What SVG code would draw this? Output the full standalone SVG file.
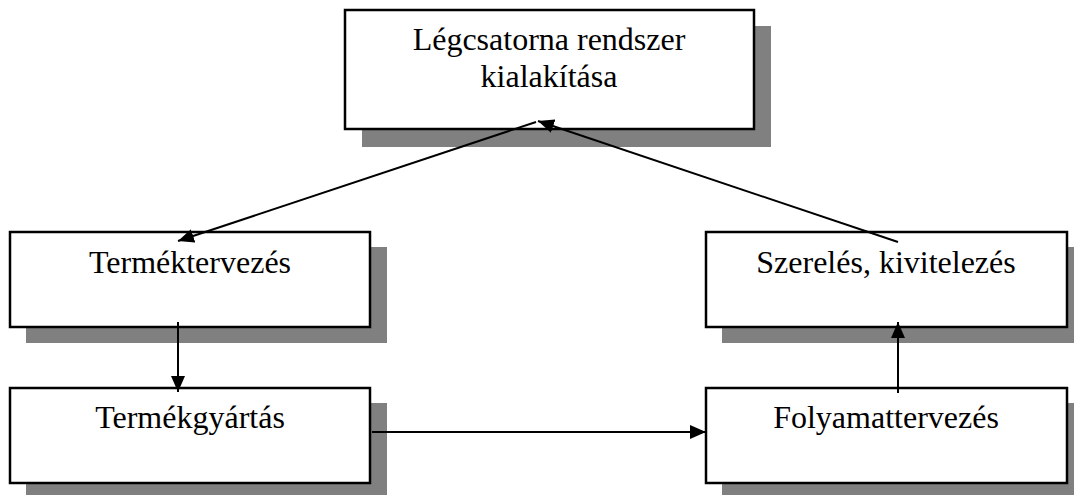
<svg xmlns="http://www.w3.org/2000/svg" width="1074" height="495" viewBox="0 0 1074 495">
<style>
.shadow{fill:#808080;stroke:none}
.box{fill:#ffffff;stroke:#000000;stroke-width:2.5}
.label{font-family:"Liberation Serif","Times New Roman",serif;font-size:32px;fill:#000000;text-anchor:middle}
.conn{stroke:#000000;stroke-width:2;fill:none;marker-end:url(#arrow)}
</style>
<defs>
<marker id="arrow" markerUnits="userSpaceOnUse" markerWidth="18" markerHeight="14" refX="16" refY="7" orient="auto">
<path d="M0,0 L16,7 L0,14 Z" fill="#000000"/>
</marker>
</defs>
<rect width="1074" height="495" fill="#ffffff"/>
<g id="node-legcsatorna">
<rect class="shadow" x="362" y="26" width="409" height="121"/>
<rect class="box" x="345" y="10" width="409" height="119"/>
<text class="label" x="549" y="50">Légcsatorna rendszer</text>
<text class="label" x="549" y="87">kialakítása</text>
</g>
<g id="node-termektervezes">
<rect class="shadow" x="26" y="247" width="361" height="96"/>
<rect class="box" x="10" y="232" width="360" height="95"/>
<text class="label" x="190" y="273">Terméktervezés</text>
</g>
<g id="node-termekgyartas">
<rect class="shadow" x="26" y="403" width="361" height="92"/>
<rect class="box" x="10" y="388" width="360" height="95"/>
<text class="label" x="190" y="428">Termékgyártás</text>
</g>
<g id="node-szereles">
<rect class="shadow" x="722" y="247" width="352" height="96"/>
<rect class="box" x="706" y="232" width="361" height="95"/>
<text class="label" x="886" y="273">Szerelés, kivitelezés</text>
</g>
<g id="node-folyamattervezes">
<rect class="shadow" x="722" y="403" width="352" height="92"/>
<rect class="box" x="706" y="388" width="361" height="95"/>
<text class="label" x="886" y="428">Folyamattervezés</text>
</g>
<g id="connectors">
<line class="conn" x1="536" y1="122" x2="178" y2="241"/>
<line class="conn" x1="898" y1="242" x2="538" y2="121"/>
<line class="conn" x1="178" y1="322" x2="178" y2="392"/>
<line class="conn" x1="898" y1="393" x2="898" y2="322"/>
<line class="conn" x1="372" y1="432" x2="706" y2="432"/>
</g>
</svg>
